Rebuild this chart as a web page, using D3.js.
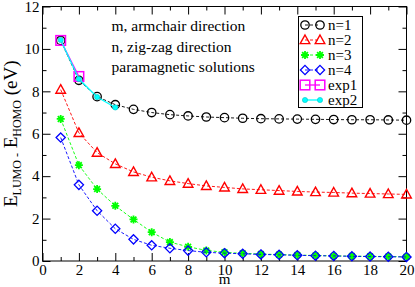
<!DOCTYPE html>
<html>
<head>
<meta charset="utf-8">
<script src="https://cdn.jsdelivr.net/npm/d3@7"></script>
<style>
  body { margin: 0; background: #fff; }
  svg { display: block; font-family: "Liberation Serif", "DejaVu Serif", serif; }
</style>
</head>
<body>
<svg id="chart" width="415" height="287"></svg>
<script>
// m values (armchair direction)
const mValues = d3.range(1, 21);

// E_LUMO - E_HOMO (eV)
const n1 = [10.4, 8.52, 7.75, 7.37, 7.15, 7.0, 6.9, 6.84, 6.79, 6.76, 6.73, 6.71, 6.7, 6.69, 6.68, 6.67, 6.66, 6.66, 6.65, 6.64];
const n2 = [8.08, 6.04, 5.11, 4.58, 4.2, 3.95, 3.78, 3.65, 3.54, 3.47, 3.4, 3.36, 3.32, 3.28, 3.25, 3.23, 3.2, 3.18, 3.16, 3.14];
const n3 = [6.7, 4.52, 3.39, 2.6, 1.96, 1.36, 0.89, 0.67, 0.5, 0.41, 0.36, 0.33, 0.3, 0.28, 0.26, 0.24, 0.23, 0.22, 0.21, 0.2];
const n4 = [5.82, 3.59, 2.37, 1.52, 1.02, 0.74, 0.6, 0.49, 0.41, 0.37, 0.34, 0.31, 0.29, 0.27, 0.25, 0.24, 0.22, 0.21, 0.2, 0.19];
const exp1M = [1, 2];
const exp1 = [10.4, 8.7];
const exp2M = [1, 2, 3, 4];
const exp2 = [10.42, 8.58, 7.73, 7.24];

const xMajorTicks = d3.range(0, 21, 2);
const xMinorTicks = d3.range(1, 20, 2);
const yMajorTicks = d3.range(0, 13, 2);
const yMinorTicks = d3.range(1, 12, 2);

const notes = ['m, armchair direction', 'n, zig-zag direction', 'paramagnetic solutions'];

const svg = d3.select('#chart');

const plotLeft = 42.5, plotRight = 406.5, plotTop = 6.5, plotBottom = 261;

const xScale = d3.scaleLinear().domain([0, 20]).range([plotLeft, plotRight]);
const yScale = d3.scaleLinear().domain([0, 12]).range([plotBottom, plotTop]);

// Axes with inward ticks on all four sides
function drawAxis(axis, transform, labels) {
    const g = svg.append('g')
        .attr('transform', transform)
        .call(axis);
    g.select('.domain').remove();
    g.selectAll('line').attr('stroke', '#000').attr('stroke-width', 1);
    g.selectAll('text')
        .attr('font-family', '"Liberation Serif", "DejaVu Serif", serif')
        .attr('font-size', 15)
        .attr('fill', '#000');
    if (!labels) g.selectAll('text').remove();
    return g;
}

drawAxis(d3.axisBottom(xScale).tickValues(xMajorTicks).tickSize(-8).tickPadding(3).tickFormat(d3.format('d')),
    `translate(0,${plotBottom})`, true);
drawAxis(d3.axisBottom(xScale).tickValues(xMinorTicks).tickSize(-4), `translate(0,${plotBottom})`, false);
drawAxis(d3.axisTop(xScale).tickValues(xMajorTicks).tickSize(-8), `translate(0,${plotTop})`, false);
drawAxis(d3.axisTop(xScale).tickValues(xMinorTicks).tickSize(-4), `translate(0,${plotTop})`, false);

drawAxis(d3.axisLeft(yScale).tickValues(yMajorTicks).tickSize(-8).tickPadding(3).tickFormat(d3.format('d')),
    `translate(${plotLeft},0)`, true);
drawAxis(d3.axisLeft(yScale).tickValues(yMinorTicks).tickSize(-4), `translate(${plotLeft},0)`, false);
drawAxis(d3.axisRight(yScale).tickValues(yMajorTicks).tickSize(-8), `translate(${plotRight},0)`, false);
drawAxis(d3.axisRight(yScale).tickValues(yMinorTicks).tickSize(-4), `translate(${plotRight},0)`, false);

// Frame
svg.append('rect')
    .attr('x', plotLeft)
    .attr('y', plotTop)
    .attr('width', plotRight - plotLeft)
    .attr('height', plotBottom - plotTop)
    .attr('fill', 'none')
    .attr('stroke', '#000')
    .attr('stroke-width', 1);

// Axis labels
svg.append('text')
    .attr('x', xScale(10))
    .attr('y', 283.5)
    .attr('text-anchor', 'middle')
    .attr('font-size', 15)
    .text('m');

const yLabel = svg.append('text')
    .attr('transform', `translate(17,${(plotTop + plotBottom) / 2}) rotate(-90)`)
    .attr('text-anchor', 'middle')
    .attr('font-size', 19);
yLabel.append('tspan').text('E');
yLabel.append('tspan').attr('font-size', 12).attr('dy', 4).text('LUMO -');
yLabel.append('tspan').attr('dy', -4).text(' E');
yLabel.append('tspan').attr('font-size', 12).attr('dy', 4).text('HOMO');
yLabel.append('tspan').attr('dy', -4).text(' (eV)');

// Notes
svg.selectAll('.note')
    .data(notes)
    .enter()
    .append('text')
    .attr('class', 'note')
    .attr('x', 111.5)
    .attr('y', (d, i) => 31 + i * 20.5)
    .attr('font-size', 15.5)
    .text((d) => d);

// Marker shapes
function drawMarker(g, type, cx, cy) {
    if (type === 'circle') {
        g.append('circle').attr('cx', cx).attr('cy', cy).attr('r', 4.2)
            .attr('fill', 'none').attr('stroke', '#000').attr('stroke-width', 1.3);
    } else if (type === 'triangle') {
        g.append('path')
            .attr('d', `M${cx},${cy - 5}L${cx + 4.8},${cy + 3.6}L${cx - 4.8},${cy + 3.6}Z`)
            .attr('fill', 'none').attr('stroke', '#ff0000').attr('stroke-width', 1.4);
    } else if (type === 'star') {
        const s = 4;
        const d = s * 0.72;
        g.append('path')
            .attr('d', `M${cx - s},${cy}L${cx + s},${cy}M${cx},${cy - s}L${cx},${cy + s}` +
                `M${cx - d},${cy - d}L${cx + d},${cy + d}M${cx - d},${cy + d}L${cx + d},${cy - d}`)
            .attr('fill', 'none').attr('stroke', '#00ff00').attr('stroke-width', 1.8);
    } else if (type === 'diamond') {
        g.append('path')
            .attr('d', `M${cx},${cy - 4.6}L${cx + 4.6},${cy}L${cx},${cy + 4.6}L${cx - 4.6},${cy}Z`)
            .attr('fill', 'none').attr('stroke', '#0000ff').attr('stroke-width', 1.3);
    } else if (type === 'square') {
        g.append('rect').attr('x', cx - 4.8).attr('y', cy - 4.8).attr('width', 9.6).attr('height', 9.6)
            .attr('fill', 'none').attr('stroke', '#ff00ff').attr('stroke-width', 1.5);
    } else if (type === 'dot') {
        g.append('circle').attr('cx', cx).attr('cy', cy).attr('r', 2.6)
            .attr('fill', '#00ffff').attr('stroke', '#00c8c8').attr('stroke-width', 0.6);
    }
}

const seriesList = [
    {name: 'n=1', m: mValues, values: n1, color: '#000000', marker: 'circle', dash: '3,2'},
    {name: 'n=2', m: mValues, values: n2, color: '#ff0000', marker: 'triangle', dash: '3,2'},
    {name: 'n=3', m: mValues, values: n3, color: '#00ff00', marker: 'star', dash: '3,2'},
    {name: 'n=4', m: mValues, values: n4, color: '#0000ff', marker: 'diamond', dash: '3,2'},
    {name: 'exp1', m: exp1M, values: exp1, color: '#ff00ff', marker: 'square', dash: null},
    {name: 'exp2', m: exp2M, values: exp2, color: '#00ffff', marker: 'dot', dash: null}
];

const line = d3.line()
    .x((d) => xScale(d.m))
    .y((d) => yScale(d.v));

seriesList.forEach((s) => {
    const points = s.m.map((m, i) => ({m: m, v: s.values[i]}));
    const g = svg.append('g');
    g.append('path')
        .attr('d', line(points))
        .attr('fill', 'none')
        .attr('stroke', s.color)
        .attr('stroke-width', s.dash ? 0.9 : 1.3)
        .attr('stroke-dasharray', s.dash);
    points.forEach((p) => drawMarker(g, s.marker, xScale(p.m), yScale(p.v)));
});

// Legend
const legend = svg.append('g');
legend.append('rect')
    .attr('x', 298.5)
    .attr('y', 16.5)
    .attr('width', 64)
    .attr('height', 91)
    .attr('fill', '#fff')
    .attr('stroke', '#000')
    .attr('stroke-width', 1);

seriesList.forEach((s, i) => {
    const ly = 25 + i * 15;
    const g = legend.append('g');
    g.append('line')
        .attr('x1', 305).attr('x2', 320)
        .attr('y1', ly).attr('y2', ly)
        .attr('stroke', s.color)
        .attr('stroke-width', s.dash ? 0.9 : 1.3)
        .attr('stroke-dasharray', s.dash);
    drawMarker(g, s.marker, 305, ly);
    drawMarker(g, s.marker, 320, ly);
    g.append('text')
        .attr('x', 328)
        .attr('y', ly + 5)
        .attr('font-size', 15)
        .text(s.name);
});
</script>
</body>
</html>
